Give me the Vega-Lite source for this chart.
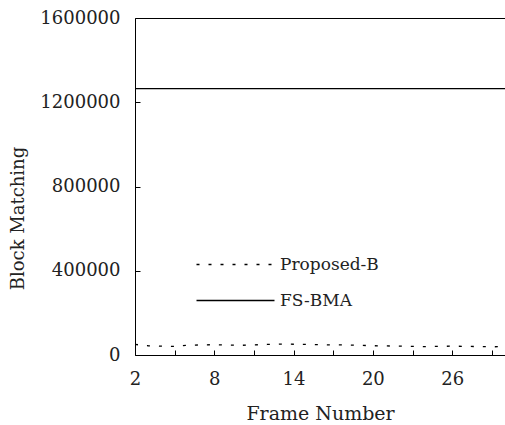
{
  "$schema": "https://vega.github.io/schema/vega-lite/v6.json",
  "width": 370,
  "height": 337,
  "autosize": {"type": "none"},
  "padding": {"left": 135, "top": 18, "right": 0, "bottom": 70},
  "background": "white",
  "config": {
    "view": {"stroke": null},
    "font": "DejaVu Serif",
    "axis": {"grid": false, "domainColor": "#000", "tickColor": "#000", "labelColor": "#222", "titleColor": "#222", "labelFont": "DejaVu Serif", "titleFont": "DejaVu Serif", "titleFontWeight": "normal", "labelFontSize": 18, "titleFontSize": 18}
  },
  "data": {"values": [
    {"frame": 2, "series": "Proposed-B", "value": 50000},
    {"frame": 3, "series": "Proposed-B", "value": 44000},
    {"frame": 4, "series": "Proposed-B", "value": 42000},
    {"frame": 5, "series": "Proposed-B", "value": 41000},
    {"frame": 6, "series": "Proposed-B", "value": 46000},
    {"frame": 7, "series": "Proposed-B", "value": 48000},
    {"frame": 8, "series": "Proposed-B", "value": 49000},
    {"frame": 9, "series": "Proposed-B", "value": 47000},
    {"frame": 10, "series": "Proposed-B", "value": 46000},
    {"frame": 11, "series": "Proposed-B", "value": 48000},
    {"frame": 12, "series": "Proposed-B", "value": 50000},
    {"frame": 13, "series": "Proposed-B", "value": 52000},
    {"frame": 14, "series": "Proposed-B", "value": 51000},
    {"frame": 15, "series": "Proposed-B", "value": 50000},
    {"frame": 16, "series": "Proposed-B", "value": 49000},
    {"frame": 17, "series": "Proposed-B", "value": 48000},
    {"frame": 18, "series": "Proposed-B", "value": 48000},
    {"frame": 19, "series": "Proposed-B", "value": 46000},
    {"frame": 20, "series": "Proposed-B", "value": 44000},
    {"frame": 21, "series": "Proposed-B", "value": 43000},
    {"frame": 22, "series": "Proposed-B", "value": 42000},
    {"frame": 23, "series": "Proposed-B", "value": 41000},
    {"frame": 24, "series": "Proposed-B", "value": 40000},
    {"frame": 25, "series": "Proposed-B", "value": 41000},
    {"frame": 26, "series": "Proposed-B", "value": 42000},
    {"frame": 27, "series": "Proposed-B", "value": 41000},
    {"frame": 28, "series": "Proposed-B", "value": 40000},
    {"frame": 29, "series": "Proposed-B", "value": 39000},
    {"frame": 30, "series": "Proposed-B", "value": 40000},
    {"frame": 2, "series": "FS-BMA", "value": 1265000},
    {"frame": 5, "series": "FS-BMA", "value": 1265000},
    {"frame": 8, "series": "FS-BMA", "value": 1265000},
    {"frame": 11, "series": "FS-BMA", "value": 1265000},
    {"frame": 14, "series": "FS-BMA", "value": 1265000},
    {"frame": 17, "series": "FS-BMA", "value": 1265000},
    {"frame": 20, "series": "FS-BMA", "value": 1265000},
    {"frame": 23, "series": "FS-BMA", "value": 1265000},
    {"frame": 26, "series": "FS-BMA", "value": 1265000},
    {"frame": 29, "series": "FS-BMA", "value": 1265000},
    {"frame": 30, "series": "FS-BMA", "value": 1265000}
  ]},
  "resolve": {"axis": {"x": "independent"}},
  "layer": [
    {
      "mark": {"type": "line", "color": "#000", "strokeWidth": 1.3, "clip": true},
      "encoding": {
        "x": {"field": "frame", "type": "quantitative", "scale": {"domain": [2, 30], "nice": false},
          "axis": {"orient": "bottom", "title": "Frame Number", "titleFontSize": 19, "values": [2, 5, 8, 11, 14, 17, 20, 23, 26, 29], "labelExpr": "(datum.value - 2) % 6 == 0 ? datum.label : ''", "tickSize": -5, "labelPadding": 20, "titlePadding": 16, "labelFlush": false}},
        "y": {"field": "value", "type": "quantitative", "scale": {"domain": [0, 1600000], "nice": false},
          "axis": {"title": "Block Matching", "values": [0, 400000, 800000, 1200000, 1600000], "format": "d", "tickSize": -5, "labelPadding": 20, "labelFlush": false, "titleX": -117, "titleY": 200, "titleAngle": -90, "titleAlign": "center", "titleBaseline": "middle"}},
        "strokeDash": {"field": "series", "type": "nominal",
          "scale": {"domain": ["Proposed-B", "FS-BMA"], "range": [[3, 9], [1, 0]]},
          "legend": {"orient": "none", "legendX": 92, "legendY": 238, "title": null, "padding": 0,
            "symbolType": "M-6,0L6,0", "symbolSize": 169, "symbolStrokeWidth": 1.3, "symbolStrokeColor": "#000",
            "labelOffset": 36, "labelFont": "DejaVu Serif", "labelFontSize": 17, "labelColor": "#222", "rowPadding": 18}}
      }
    },
    {
      "mark": {"type": "line", "opacity": 0},
      "encoding": {
        "x": {"field": "frame", "type": "quantitative", "scale": {"domain": [2, 30], "nice": false},
          "axis": {"orient": "top", "title": null, "labels": false, "ticks": false, "domain": true, "domainColor": "#000"}},
        "y": {"field": "value", "type": "quantitative"}
      }
    }
  ]
}
